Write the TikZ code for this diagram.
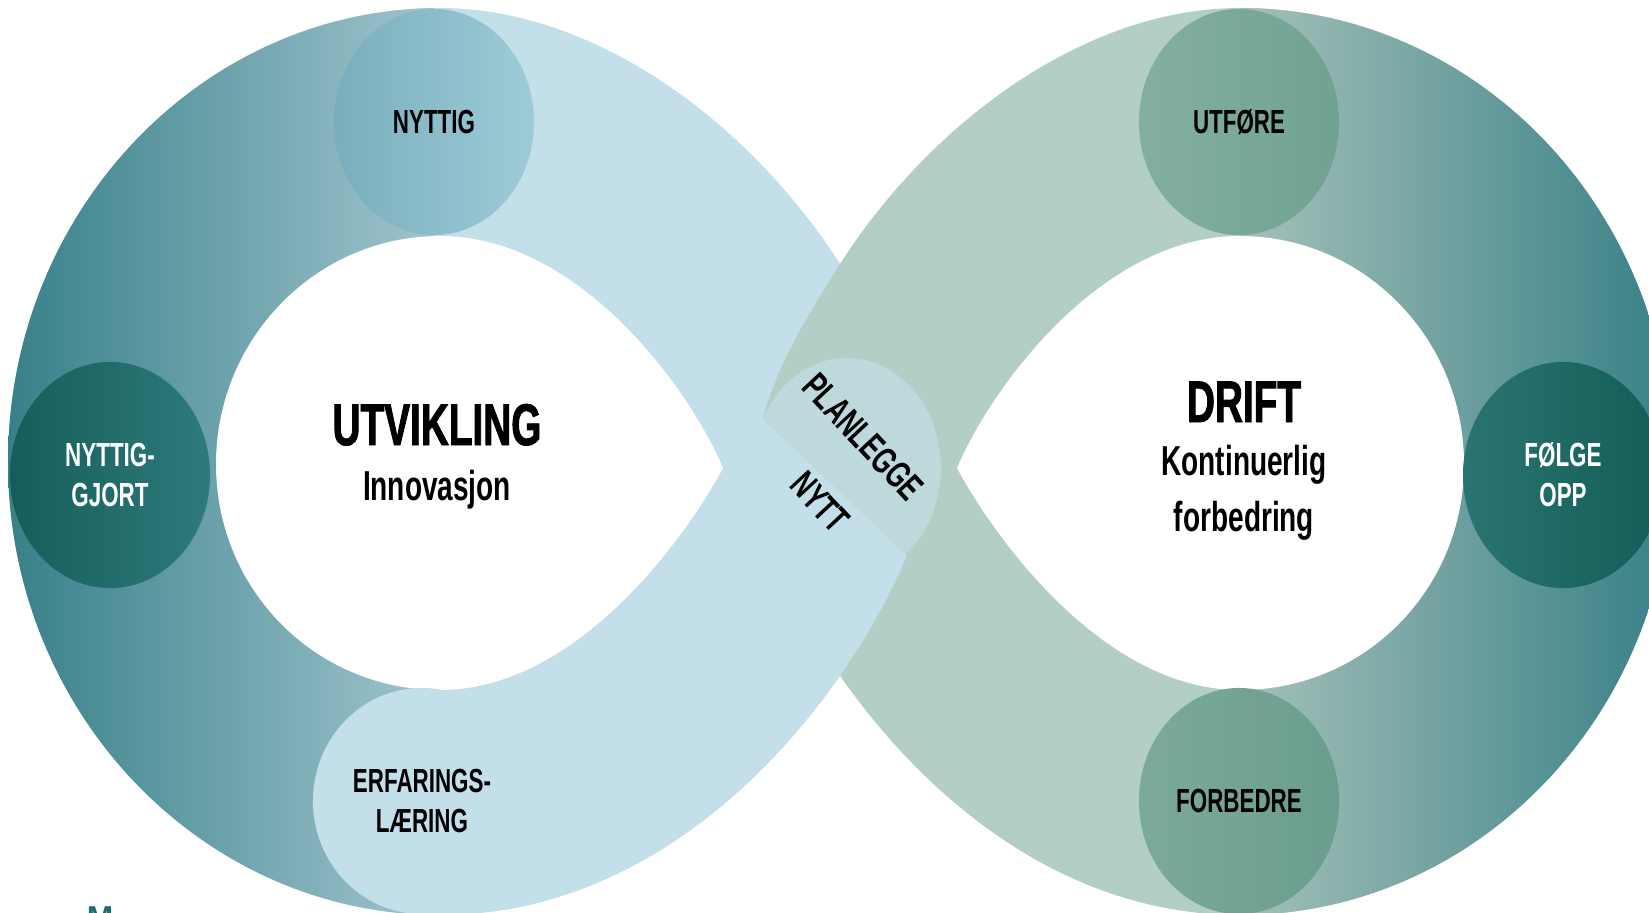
\documentclass[tikz,border=0pt]{standalone}
\usepackage{fontspec}
\setmainfont{Liberation Sans}
\newfontfamily\narrowfont[FakeStretch=0.67]{Liberation Sans}
\newfontfamily\heavyfont[FakeStretch=0.66, FakeBold=1.5]{Liberation Sans}
\usetikzlibrary{shapes.geometric}

\definecolor{bandblue}{RGB}{195,224,234}
\definecolor{bandgreen}{RGB}{179,206,196}
\definecolor{tealdark}{RGB}{56,128,137}
\definecolor{teallight}{RGB}{160,196,206}
\definecolor{greenfade}{RGB}{165,192,185}
\definecolor{greendark}{RGB}{55,128,134}
\definecolor{planfill}{RGB}{189,217,220}
\definecolor{logoteal}{RGB}{31,107,110}

\newcommand{\capslabel}{\narrowfont\bfseries\fontsize{9.5}{11.4}\selectfont}
\newcommand{\titlefont}{\heavyfont\bfseries\fontsize{16.7}{20}\selectfont}
\newcommand{\subfont}{\narrowfont\bfseries\fontsize{11.9}{16}\selectfont}

% one loop, the drift loop is its mirror image
\newcommand{\loopouter}{(440,8) .. controls (600,8) and (760,130) .. (850,280)
  .. controls (910,375) and (950,460) .. (905,560)
  .. controls (845,700) and (680,915) .. (440,915)
  .. controls (202,915) and (8,712) .. (8,462)
  .. controls (8,212) and (202,8) .. (440,8) -- cycle}
\newcommand{\loophole}{(723,468) .. controls (690,390) and (580,236) .. (440,236)
  .. controls (316,236) and (216,339) .. (216,464)
  .. controls (216,590) and (316,690) .. (440,690)
  .. controls (580,690) and (690,530) .. (723,468) -- cycle}

\tikzset{
  bubble/.style={ellipse, minimum width=2cm, minimum height=2.26cm, inner sep=0pt, align=center, font=\capslabel},
  title/.style={font=\titlefont, anchor=base, inner sep=0pt},
  subtitle/.style={font=\subfont, anchor=base, inner sep=0pt},
  slanted/.style={font=\narrowfont\bfseries\fontsize{10.7}{11}\selectfont, rotate=-47, inner sep=0pt}
}

\begin{document}
\begin{tikzpicture}[x=0.01cm, y=-0.01cm]
	\useasboundingbox (0,0) rectangle (1649,912);
	\clip (0,0) rectangle (1649,912);

	% utvikling loop
	\fill[bandblue] \loopouter;
	\begin{scope}
		\clip \loopouter;
		\shade[left color=tealdark, right color=teallight] (8,0) rectangle (434,912);
	\end{scope}

	% drift loop
	\begin{scope}[shift={(1680,0)}, xscale=-1]
		\fill[bandgreen] \loopouter;
		\clip \loopouter;
		\shade[left color=greenfade, right color=greendark] (8,0) rectangle (440,912);
	\end{scope}

	\node[ellipse, fill=planfill, minimum width=1.88cm, minimum height=2.2cm] (plan) at (847,468) {};

	% front arm over the crossing
	\begin{scope}
		\clip (600,265) -- (1000,644) -- (1000,912) -- (440,912) -- (440,265) -- cycle;
		\fill[bandblue] \loopouter;
	\end{scope}

	\fill[white] \loophole;
	\begin{scope}[shift={(1680,0)}, xscale=-1]
		\fill[white] \loophole;
	\end{scope}

	\node[bubble, left color={rgb,255:red,122;green,174;blue,188}, right color={rgb,255:red,158;green,203;blue,216}] (nyttig) at (434,122) {NYTTIG};
	\node[bubble, left color={rgb,255:red,21;green,93;blue,89}, right color={rgb,255:red,46;green,123;blue,124}, text=white] (gjort) at (110,475) {NYTTIG-\\GJORT};
	\node[bubble, fill=bandblue, minimum width=2.18cm] (laering) at (422,801) {ERFARINGS-\\LÆRING};
	\node[bubble, left color={rgb,255:red,132;green,175;blue,158}, right color={rgb,255:red,112;green,162;blue,145}] (utfore) at (1239,122) {UTFØRE};
	\node[bubble, left color={rgb,255:red,42;green,117;blue,113}, right color={rgb,255:red,19;green,93;blue,88}, text=white] (folge) at (1563,475) {FØLGE\\OPP};
	\node[bubble, left color={rgb,255:red,124;green,170;blue,154}, right color={rgb,255:red,106;green,157;blue,142}] (forbedre) at (1239,801) {FORBEDRE};

	\node[slanted] (plantext) at (863,437) {PLANLEGGE};
	\node[slanted] (nytt) at (820,502) {NYTT};

	\node[title] (utv) at (437,445) {UTVIKLING};
	\node[subtitle] (innov) at (437,500) {Innovasjon};
	\node[title] (drift) at (1244,422) {DRIFT};
	\node[subtitle] (kont) at (1244,475) {Kontinuerlig};
	\node[subtitle] (forb) at (1244,531) {forbedring};

	\node[anchor=north, inner sep=0pt, text=logoteal, font=\bfseries\fontsize{9}{9}\selectfont] (logo) at (100,906) {M};
\end{tikzpicture}
\end{document}
